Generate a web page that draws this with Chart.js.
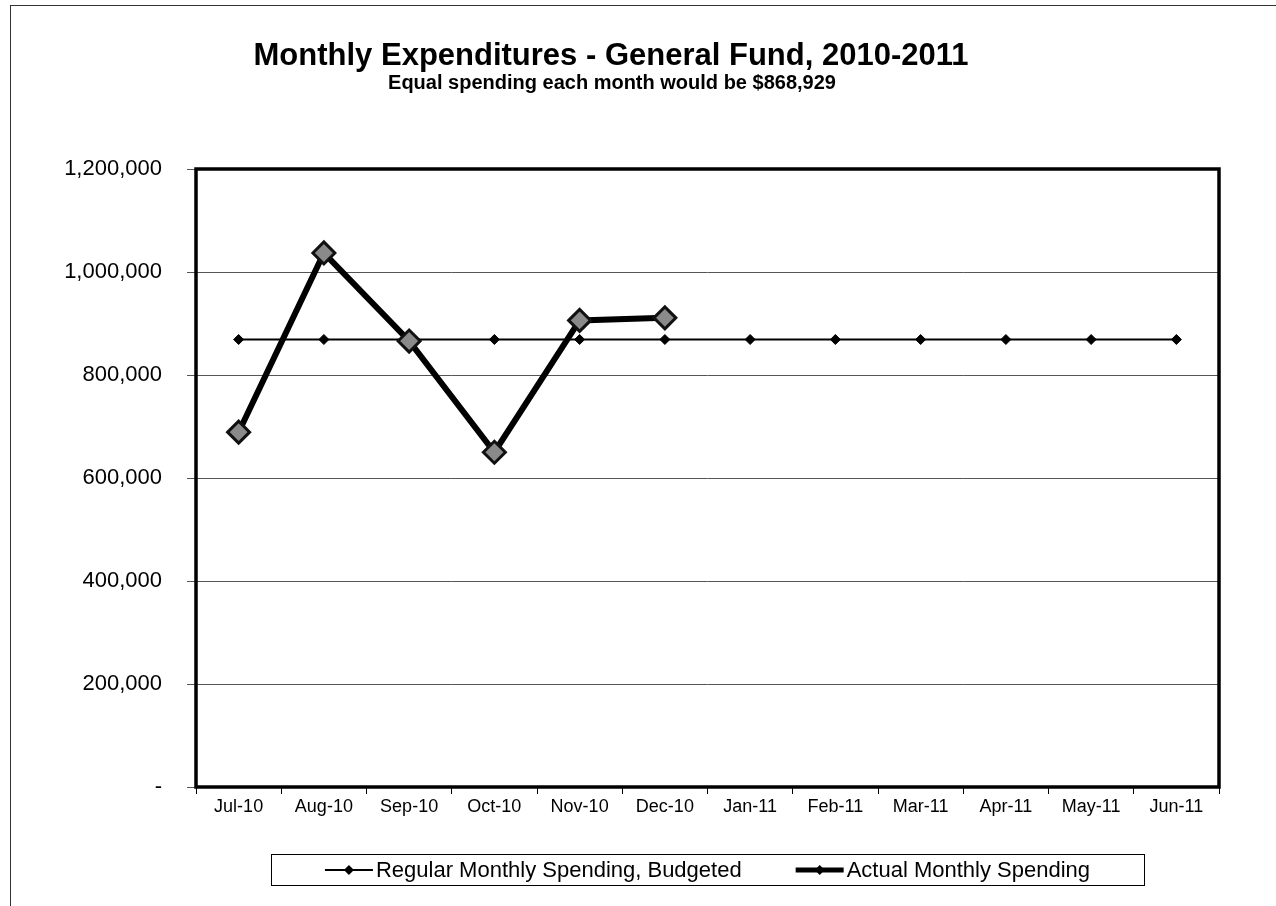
<!DOCTYPE html>
<html>
<head>
<meta charset="utf-8">
<title>Monthly Expenditures - General Fund, 2010-2011</title>
<script src="https://cdn.jsdelivr.net/npm/chart.js@4.4.1/dist/chart.umd.min.js"></script>
<style>
    html, body { margin: 0; padding: 0; background: #fff; }
    #wrap { position: relative; width: 1276px; height: 906px; overflow: hidden; }
    #frame { position: absolute; left: 10px; top: 5px; width: 1400px; height: 1000px; border: 1px solid #333; box-sizing: border-box; }
    canvas { position: absolute; left: 0; top: 0; }
</style>
</head>
<body>
<div id="wrap">
    <div id="frame"></div>
    <canvas id="line" width="1276" height="906"></canvas>
</div>
<script>
// Data
const months = ['Jul-10', 'Aug-10', 'Sep-10', 'Oct-10', 'Nov-10', 'Dec-10',
                'Jan-11', 'Feb-11', 'Mar-11', 'Apr-11', 'May-11', 'Jun-11'];
const budgeted = [868929, 868929, 868929, 868929, 868929, 868929,
                  868929, 868929, 868929, 868929, 868929, 868929];
const actual = [689000, 1037000, 866000, 650000, 906000, 911000,
                null, null, null, null, null, null];
const yTicks = [0, 200000, 400000, 600000, 800000, 1000000, 1200000];

const titleText = 'Monthly Expenditures - General Fund, 2010-2011';
const subtitleText = 'Equal spending each month would be $868,929';
const seriesNames = ['Regular Monthly Spending, Budgeted', 'Actual Monthly Spending'];

const FONT = '"Liberation Sans", Arial, sans-serif';

document.addEventListener('DOMContentLoaded', () => {

    // Titles, plot frame and the boxed legend, drawn the way the spreadsheet does it
    const excelLook = {
        id: 'excelLook',
        beforeDatasetsDraw(chart) {
            const { ctx, chartArea: a } = chart;
            ctx.save();
            ctx.strokeStyle = '#000';
            ctx.lineWidth = 3.5;
            ctx.strokeRect(a.left, a.top, a.right - a.left, a.bottom - a.top);
            ctx.restore();
        },
        afterDraw(chart) {
            const { ctx, chartArea: a } = chart;
            ctx.save();
            ctx.fillStyle = '#000';
            ctx.textAlign = 'center';
            ctx.textBaseline = 'alphabetic';
            ctx.font = 'bold 31px ' + FONT;
            ctx.fillText(titleText, 611, 65);
            ctx.font = 'bold 20px ' + FONT;
            ctx.fillText(subtitleText, 612, 89);

            // legend
            ctx.font = '22px ' + FONT;
            const sample = 48, gapText = 3, gapItems = 54, padX = 54;
            const widths = seriesNames.map(n => ctx.measureText(n).width);
            const total = sample * 2 + gapText * 2 + widths[0] + widths[1] + gapItems;
            const cx = (a.left + a.right) / 2;
            const cy = 870;
            let x = cx - total / 2;
            ctx.strokeStyle = '#000';
            ctx.lineWidth = 1;
            ctx.strokeRect(Math.round(x - padX) + 0.5, cy - 15.5, Math.round(total + padX * 2), 31);

            chart.data.datasets.forEach((ds, i) => {
                ctx.strokeStyle = '#000';
                ctx.lineWidth = ds.legendLine;
                ctx.beginPath();
                ctx.moveTo(x, cy);
                ctx.lineTo(x + sample, cy);
                ctx.stroke();
                ctx.fillStyle = '#000';
                ctx.beginPath();
                ctx.moveTo(x + sample / 2, cy - 5);
                ctx.lineTo(x + sample / 2 + 5, cy);
                ctx.lineTo(x + sample / 2, cy + 5);
                ctx.lineTo(x + sample / 2 - 5, cy);
                ctx.closePath();
                ctx.fill();
                ctx.textAlign = 'left';
                ctx.textBaseline = 'middle';
                ctx.fillText(ds.label, x + sample + gapText, cy + 1);
                x += sample + gapText + widths[i] + gapItems;
            });
            ctx.restore();
        }
    };

    const ctx = document.getElementById('line').getContext('2d');
    const spendingChart = new Chart(ctx, {
        type: 'line',
        data: {
            labels: months,
            datasets: [
                {
                    label: seriesNames[0],
                    data: budgeted,
                    borderColor: '#000',
                    borderWidth: 2,
                    pointStyle: 'rectRot',
                    pointRadius: 5,
                    pointBackgroundColor: '#000',
                    pointBorderColor: '#000',
                    pointBorderWidth: 1,
                    tension: 0,
                    order: 2,
                    legendLine: 2
                },
                {
                    label: seriesNames[1],
                    data: actual,
                    borderColor: '#000',
                    borderWidth: 6,
                    pointStyle: 'rectRot',
                    pointRadius: 11,
                    pointBackgroundColor: '#8a8a8a',
                    pointBorderColor: '#111',
                    pointBorderWidth: 3,
                    tension: 0,
                    spanGaps: false,
                    order: 1,
                    legendLine: 5
                }
            ]
        },
        options: {
            responsive: false,
            animation: false,
            layout: {
                padding: { top: 169, left: 0, right: 57, bottom: 0 }
            },
            plugins: {
                legend: { display: false },
                title: { display: false },
                tooltip: { enabled: false }
            },
            scales: {
                x: {
                    offset: true,
                    grid: {
                        offset: true,
                        drawOnChartArea: false,
                        tickLength: 7,
                        color: '#000'
                    },
                    border: { display: false },
                    ticks: {
                        color: '#000',
                        padding: 2,
                        maxRotation: 0,
                        autoSkip: false,
                        font: { family: FONT, size: 18 }
                    },
                    afterFit(scale) { scale.height = 906 - 787; }
                },
                y: {
                    min: 0,
                    max: 1200000,
                    afterBuildTicks(scale) { scale.ticks = yTicks.map(v => ({ value: v })); },
                    grid: {
                        color: '#555',
                        lineWidth: 1,
                        tickLength: 9
                    },
                    border: { display: false },
                    ticks: {
                        color: '#000',
                        padding: 25,
                        font: { family: FONT, size: 22 },
                        callback: v => v === 0 ? '-' : v.toLocaleString('en-US')
                    },
                    afterFit(scale) { scale.width = 196; }
                }
            }
        },
        plugins: [excelLook]
    });
});
</script>
</body>
</html>
